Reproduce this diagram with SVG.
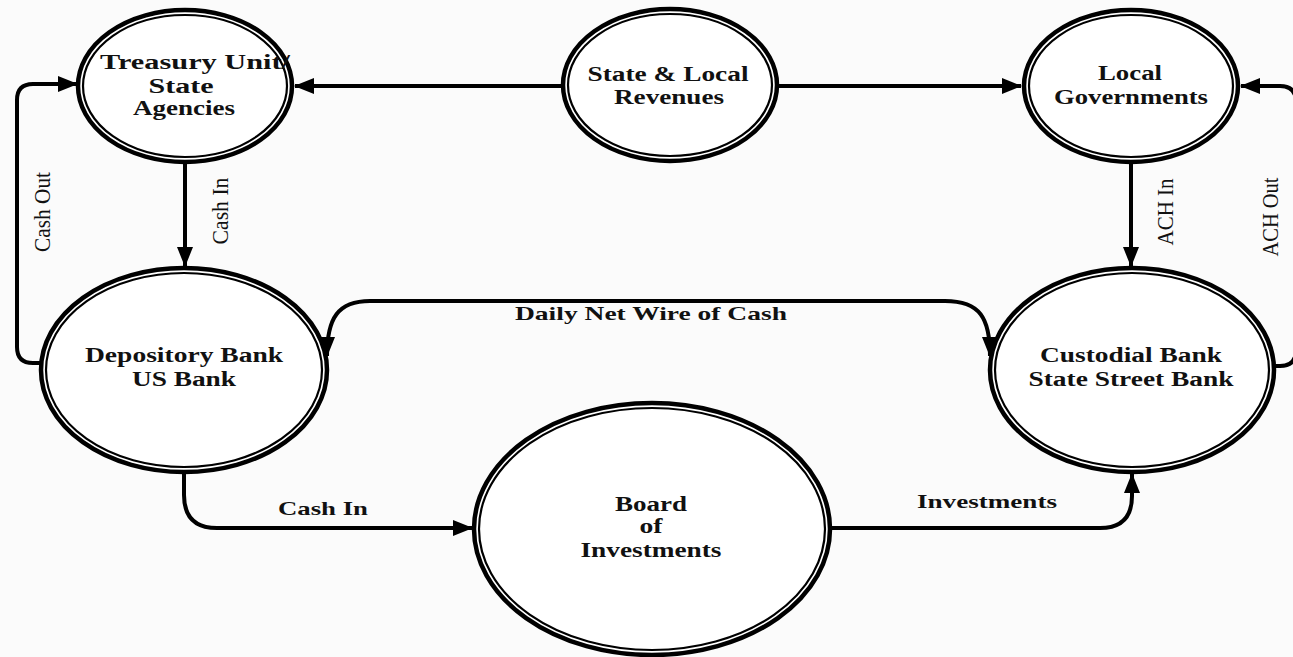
<svg xmlns="http://www.w3.org/2000/svg" width="1293" height="657" viewBox="0 0 1293 657">
<style>
.outer{fill:#fff;stroke:#000;stroke-width:4.5}
.inner{fill:none;stroke:#000;stroke-width:2.2}
.nt{font-family:"Liberation Serif","Times New Roman",serif;font-weight:bold;font-size:20px;fill:#111;text-anchor:middle}
.lt{font-family:"Liberation Serif","Times New Roman",serif;font-weight:bold;font-size:19px;fill:#111;text-anchor:middle}
.rt{font-family:"Liberation Serif","Times New Roman",serif;font-size:23px;fill:#111;text-anchor:middle}
.c{fill:none;stroke:#000;stroke-width:4}
</style>
<defs>
<marker id="ah" markerUnits="userSpaceOnUse" markerWidth="20" markerHeight="16" refX="19" refY="8" orient="auto-start-reverse" viewBox="0 0 20 16">
<path d="M0,0 L20,8 L0,16 z" fill="#000"/>
</marker>
</defs>
<rect width="1293" height="657" fill="#fbfbfb"/>
<g id="connectors">
<path class="c" d="M562,86 H295" marker-end="url(#ah)"/>
<path class="c" d="M778,86 H1021" marker-end="url(#ah)"/>
<path class="c" d="M185,163 V266" marker-end="url(#ah)"/>
<path class="c" d="M1131,163 V266" marker-end="url(#ah)"/>
<path class="c" d="M40,363 H33 Q17,363 17,347 V100 Q17,84 33,84 H77" marker-end="url(#ah)"/>
<path class="c" d="M1275,366 H1280 Q1296,366 1296,350 V102 Q1296,86 1280,86 H1241" marker-end="url(#ah)"/>
<path class="c" d="M327,356 C327,318 338,301 370,301 H945 C980,301 990,318 990,356" marker-start="url(#ah)" marker-end="url(#ah)"/>
<path class="c" d="M184,472 V495 Q184,528 217,528 H472" marker-end="url(#ah)"/>
<path class="c" d="M832,528 H1100 Q1132,528 1132,496 V474" marker-end="url(#ah)"/>
<text class="lt" x="651" y="320" textLength="272" lengthAdjust="spacingAndGlyphs">Daily Net Wire of Cash</text>
<text class="lt" x="323" y="515" textLength="90" lengthAdjust="spacingAndGlyphs">Cash In</text>
<text class="lt" x="987" y="508" textLength="140" lengthAdjust="spacingAndGlyphs">Investments</text>
<text class="rt" transform="translate(50,212) rotate(-90)" textLength="80" lengthAdjust="spacingAndGlyphs">Cash Out</text>
<text class="rt" transform="translate(228,211) rotate(-90)" textLength="67" lengthAdjust="spacingAndGlyphs">Cash In</text>
<text class="rt" transform="translate(1173,212) rotate(-90)" textLength="67" lengthAdjust="spacingAndGlyphs">ACH In</text>
<text class="rt" transform="translate(1278,217) rotate(-90)" textLength="79" lengthAdjust="spacingAndGlyphs">ACH Out</text>
</g>
<g id="treasury">
<ellipse class="outer" cx="185" cy="86" rx="107" ry="76"/>
<ellipse class="inner" cx="185" cy="86" rx="102" ry="71"/>
<text class="nt" x="195" y="69" textLength="190" lengthAdjust="spacingAndGlyphs">Treasury Unit/</text>
<text class="nt" x="181" y="93" textLength="65" lengthAdjust="spacingAndGlyphs">State</text>
<text class="nt" x="184" y="115" textLength="102" lengthAdjust="spacingAndGlyphs">Agencies</text>
</g>
<g id="revenues">
<ellipse class="outer" cx="670" cy="85" rx="107" ry="76"/>
<ellipse class="inner" cx="670" cy="85" rx="102" ry="71"/>
<text class="nt" x="668" y="81" textLength="161" lengthAdjust="spacingAndGlyphs">State &amp; Local</text>
<text class="nt" x="669" y="104" textLength="110" lengthAdjust="spacingAndGlyphs">Revenues</text>
</g>
<g id="localgov">
<ellipse class="outer" cx="1131" cy="86" rx="107" ry="76"/>
<ellipse class="inner" cx="1131" cy="86" rx="102" ry="71"/>
<text class="nt" x="1130" y="80" textLength="64" lengthAdjust="spacingAndGlyphs">Local</text>
<text class="nt" x="1131" y="104" textLength="154" lengthAdjust="spacingAndGlyphs">Governments</text>
</g>
<g id="depository">
<ellipse class="outer" cx="184" cy="370" rx="143" ry="102"/>
<ellipse class="inner" cx="184" cy="370" rx="138" ry="97"/>
<text class="nt" x="184" y="362" textLength="198" lengthAdjust="spacingAndGlyphs">Depository Bank</text>
<text class="nt" x="184" y="386" textLength="104" lengthAdjust="spacingAndGlyphs">US Bank</text>
</g>
<g id="custodial">
<ellipse class="outer" cx="1132" cy="370" rx="142" ry="102"/>
<ellipse class="inner" cx="1132" cy="370" rx="137" ry="97"/>
<text class="nt" x="1131" y="362" textLength="182" lengthAdjust="spacingAndGlyphs">Custodial Bank</text>
<text class="nt" x="1131" y="386" textLength="205" lengthAdjust="spacingAndGlyphs">State Street Bank</text>
</g>
<g id="board">
<ellipse class="outer" cx="652" cy="529" rx="178" ry="126"/>
<ellipse class="inner" cx="652" cy="529" rx="173" ry="121"/>
<text class="nt" x="651" y="511" textLength="72" lengthAdjust="spacingAndGlyphs">Board</text>
<text class="nt" x="651" y="533" textLength="23" lengthAdjust="spacingAndGlyphs">of</text>
<text class="nt" x="651" y="557" textLength="141" lengthAdjust="spacingAndGlyphs">Investments</text>
</g>
</svg>
